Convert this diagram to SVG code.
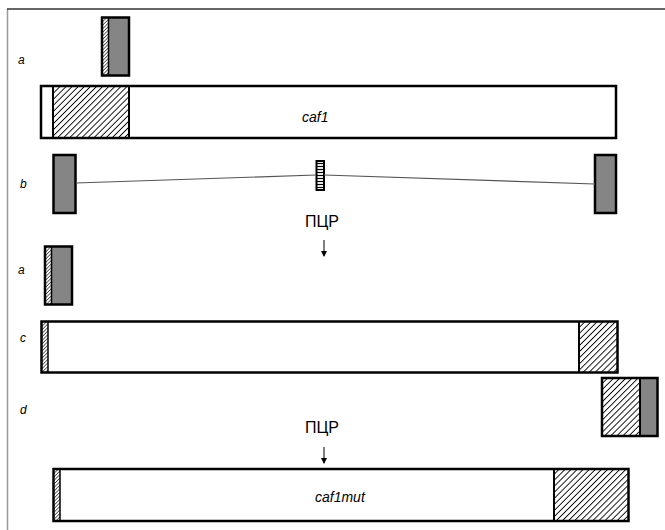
<svg xmlns="http://www.w3.org/2000/svg" width="665" height="530" viewBox="0 0 665 530">
  <style>
    .box { stroke: #000; stroke-width: 2.5; }
    .white { fill: #fff; }
    .gray { fill: #858585; }
    .hatch { fill: url(#diag); }
    .fine { fill: url(#fineDiag); }
    .label { font-family: "Liberation Sans", Arial, sans-serif; font-style: italic; font-size: 12px; fill: #000; }
    .name { font-family: "Liberation Sans", Arial, sans-serif; font-style: italic; font-size: 14px; fill: #000; }
    .pcr { font-family: "Liberation Sans", Arial, sans-serif; font-size: 16px; fill: #000; text-anchor: middle; }
    .link { stroke: #555; stroke-width: 1.2; fill: none; }
    .arrow { stroke: #000; stroke-width: 1; fill: none; marker-end: url(#head); }
  </style>
  <defs>
    <pattern id="diag" patternUnits="userSpaceOnUse" width="4.3" height="4.3" patternTransform="rotate(45)">
      <rect width="4.3" height="4.3" fill="#fff"/>
      <line x1="0" y1="0" x2="0" y2="4.3" stroke="#000" stroke-width="1.8"/>
    </pattern>
    <pattern id="fineDiag" patternUnits="userSpaceOnUse" width="2.5" height="2.5" patternTransform="rotate(45)">
      <rect width="2.5" height="2.5" fill="#fff"/>
      <line x1="0" y1="0" x2="0" y2="2.5" stroke="#000" stroke-width="1.2"/>
    </pattern>
    <pattern id="rungs" patternUnits="userSpaceOnUse" width="8" height="3">
      <rect width="8" height="3" fill="#fff"/>
      <line x1="0" y1="1.5" x2="8" y2="1.5" stroke="#000" stroke-width="1.2"/>
    </pattern>
    <marker id="head" markerWidth="6" markerHeight="6" refX="5" refY="3" orient="auto" markerUnits="userSpaceOnUse">
      <path d="M0,0 L6,3 L0,6 Z" fill="#000"/>
    </marker>
  </defs>

  <!-- frame -->
  <g id="frame">
    <rect x="0" y="0" width="665" height="530" fill="#fff"/>
    <line x1="7.5" y1="9" x2="7.5" y2="530" stroke="#999" stroke-width="1.5"/>
    <line x1="7" y1="9" x2="665" y2="9" stroke="#333" stroke-width="1.5"/>
  </g>

  <!-- row labels -->
  <g id="labels">
    <text class="label" x="18" y="64">a</text>
    <text class="label" x="20" y="188">b</text>
    <text class="label" x="18" y="274">a</text>
    <text class="label" x="20" y="342">c</text>
    <text class="label" x="20" y="414">d</text>
  </g>

  <!-- primer a (top) -->
  <g id="primerA1">
    <rect class="fine" x="103" y="18" width="6" height="57"/>
    <rect class="gray" x="109" y="18" width="20" height="57"/>
    <line x1="108.5" y1="18" x2="108.5" y2="75" stroke="#000" stroke-width="1.5"/>
    <rect class="box" x="102" y="17.5" width="27" height="58" fill="none"/>
  </g>

  <!-- caf1 gene -->
  <g id="caf1">
    <rect class="white" x="41" y="86" width="575" height="52"/>
    <rect class="hatch" x="53" y="86" width="76" height="52"/>
    <line x1="53" y1="86" x2="53" y2="138" stroke="#000" stroke-width="2"/>
    <line x1="129" y1="86" x2="129" y2="138" stroke="#000" stroke-width="2"/>
    <rect class="box" x="41" y="86" width="575" height="52" fill="none"/>
    <text class="name" x="302" y="122">caf1</text>
  </g>

  <!-- primer b pair with template -->
  <g id="primerB">
    <rect class="box gray" x="53.5" y="155" width="22" height="58"/>
    <rect class="box gray" x="595" y="155" width="21" height="58"/>
    <rect x="316.5" y="161" width="7.5" height="29" fill="url(#rungs)" stroke="#000" stroke-width="2"/>
  </g>

  <!-- primer a (second) -->
  <g id="primerA2">
    <rect class="fine" x="46" y="247" width="6" height="57"/>
    <rect class="gray" x="52" y="247" width="20" height="57"/>
    <line x1="51.5" y1="247" x2="51.5" y2="304" stroke="#000" stroke-width="1.5"/>
    <rect class="box" x="45" y="246.5" width="27" height="58" fill="none"/>
  </g>

  <!-- product c -->
  <g id="productC">
    <rect class="white" x="41.5" y="321.5" width="576" height="51"/>
    <rect class="fine" x="42" y="322" width="6" height="50"/>
    <line x1="48" y1="322" x2="48" y2="372" stroke="#000" stroke-width="1.5"/>
    <rect class="hatch" x="579" y="322" width="38" height="50"/>
    <line x1="579" y1="322" x2="579" y2="372" stroke="#000" stroke-width="2"/>
    <rect class="box" x="41.5" y="321.5" width="576" height="51" fill="none"/>
  </g>

  <!-- primer d -->
  <g id="primerD">
    <rect class="hatch" x="602" y="378" width="38" height="58"/>
    <rect class="gray" x="640" y="378" width="17" height="58"/>
    <line x1="640" y1="378" x2="640" y2="436" stroke="#000" stroke-width="2"/>
    <rect class="box" x="602" y="378" width="55.5" height="58" fill="none"/>
  </g>

  <!-- caf1mut product -->
  <g id="caf1mut">
    <rect class="white" x="53.5" y="469" width="575" height="52"/>
    <rect class="fine" x="54" y="469" width="6" height="52"/>
    <line x1="60" y1="469" x2="60" y2="521" stroke="#000" stroke-width="1.5"/>
    <rect class="hatch" x="554" y="469" width="74" height="52"/>
    <line x1="554" y1="469" x2="554" y2="521" stroke="#000" stroke-width="2"/>
    <rect class="box" x="53.5" y="469" width="575" height="52" fill="none"/>
    <text class="name" x="315" y="502">caf1mut</text>
  </g>

  <!-- PCR steps -->
  <g id="pcr1">
    <text class="pcr" x="322" y="227">ПЦР</text>
  </g>
  <g id="pcr2">
    <text class="pcr" x="322" y="433">ПЦР</text>
  </g>

  <!-- connectors -->
  <g id="connectors">
    <line class="link" x1="76" y1="183" x2="316" y2="175"/>
    <line class="link" x1="324" y1="175" x2="595" y2="184"/>
    <line class="arrow" x1="324" y1="240" x2="324" y2="256"/>
    <line class="arrow" x1="324" y1="447" x2="324" y2="463"/>
  </g>
</svg>
